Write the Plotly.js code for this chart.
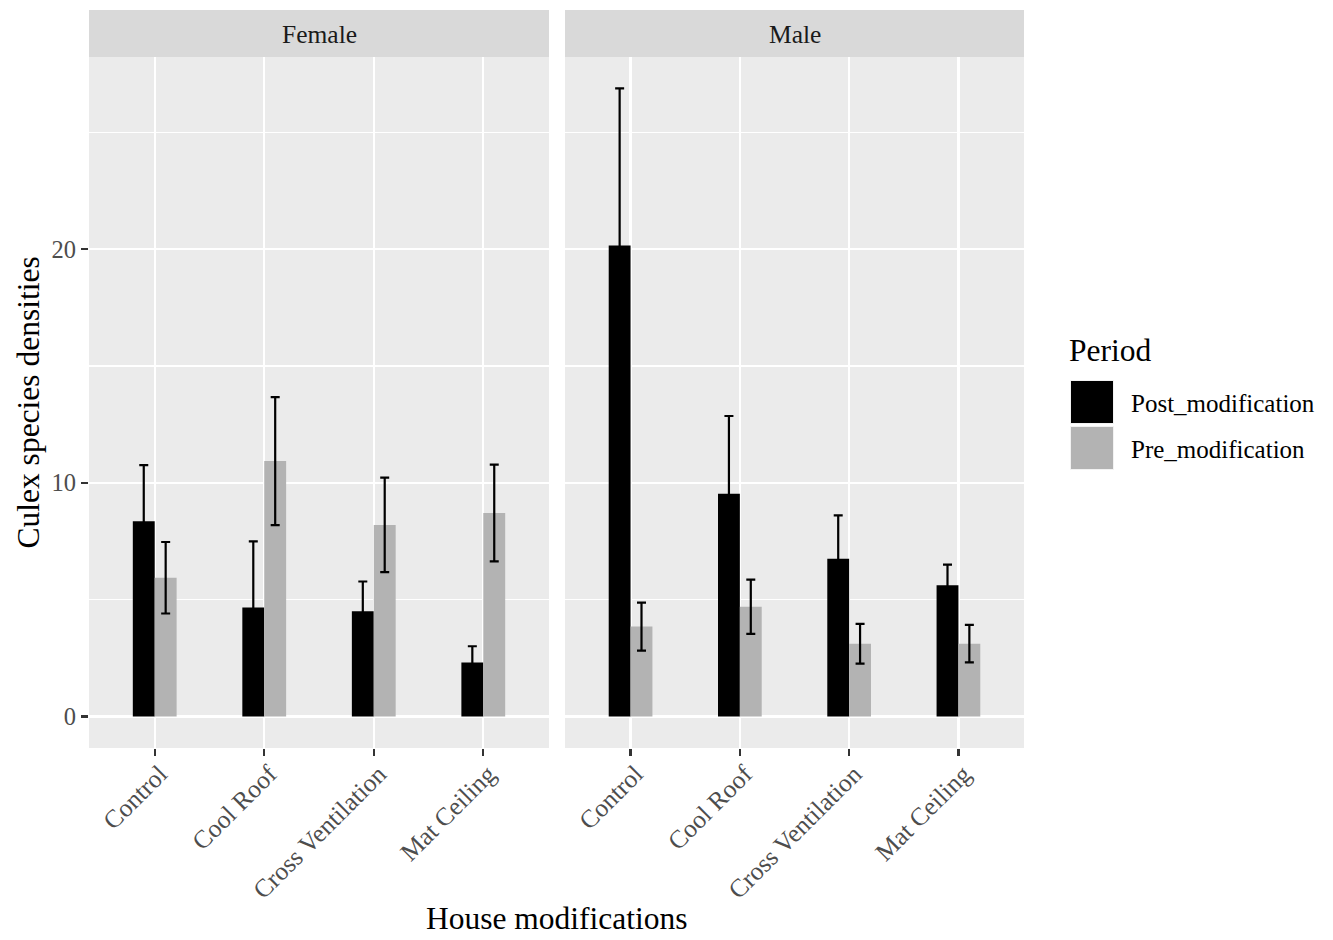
<!DOCTYPE html>
<html>
<head>
<meta charset="utf-8">
<script src="https://cdn.plot.ly/plotly-3.0.1.min.js"></script>
<style>html,body{margin:0;padding:0;background:#fff;}#chart{width:1333px;height:940px;}</style>
</head>
<body>
<div id="chart"></div>
<script>
// ---- data ----
const categories = ["Control", "Cool Roof", "Cross Ventilation", "Mat Ceiling"];
const panels = ["Female", "Male"];
const seriesNames = ["Post_modification", "Pre_modification"];
const femalePost = [8.36, 4.67, 4.51, 2.31];
const femalePostErr = [2.40, 2.83, 1.27, 0.70];
const femalePre = [5.94, 10.93, 8.20, 8.71];
const femalePreErr = [1.53, 2.74, 2.02, 2.07];
const malePost = [20.15, 9.53, 6.75, 5.62];
const malePostErr = [6.73, 3.33, 1.86, 0.88];
const malePre = [3.85, 4.70, 3.12, 3.12];
const malePreErr = [1.03, 1.16, 0.85, 0.80];
const yTicks = [0, 10, 20];
const yTitle = "Culex species densities";
const xTitle = "House modifications";
const legendTitle = "Period";

// ---- styling ----
const W = 1333, H = 940;
const L = 89, R = 1024, T = 57, B = 748;
const pw = R - L, ph = B - T;
const px2x = p => (p - L) / pw;
const px2y = p => (B - p) / ph;
const FONT = "Liberation Serif, Times New Roman, serif";
const colors = ["#000000", "#B3B3B3"];

function bar(x, y, err, name, ci, xa, ya) {
  return {
    type: "bar", x: x, y: y, name: name,
    xaxis: xa, yaxis: ya,
    marker: {color: colors[ci], line: {width: 0}},
    error_y: {type: "data", array: err, visible: true, color: "#000000", thickness: 2.2, width: 4.5},
    showlegend: false, hoverinfo: "skip"
  };
}

const data = [
  bar(categories, femalePost, femalePostErr, seriesNames[0], 0, "x", "y"),
  bar(categories, femalePre, femalePreErr, seriesNames[1], 1, "x", "y"),
  bar(categories, malePost, malePostErr, seriesNames[0], 0, "x2", "y2"),
  bar(categories, malePre, malePreErr, seriesNames[1], 1, "x2", "y2")
];

const yr = [-1.344, 28.22];
const xAxisBase = {
  type: "category", range: [-0.6, 3.6],
  showgrid: true, gridcolor: "#FFFFFF", gridwidth: 2.2,
  zeroline: false, showline: false,
  ticks: "outside", ticklen: 7, tickwidth: 2.2, tickcolor: "#333333",
  tickangle: -45, tickfont: {family: FONT, size: 25.5, color: "#4D4D4D"},
  ticklabelshift: 5, ticklabelstandoff: -7,
  fixedrange: true
};
const yAxisBase = {
  range: yr, tickvals: yTicks, ticktext: yTicks.map(String),
  showgrid: true, gridcolor: "#FFFFFF", gridwidth: 2.2,
  minor: {dtick: 5, tick0: 0, showgrid: true, gridcolor: "#FFFFFF", gridwidth: 1.1, ticks: ""},
  zeroline: false, showline: false,
  fixedrange: true
};

const femaleRight = 549, maleLeft = 565;

const layout = {
  width: W, height: H,
  margin: {l: L, r: W - R, t: T, b: H - B, pad: 0},
  paper_bgcolor: "#FFFFFF", plot_bgcolor: "#EBEBEB",
  barmode: "group", bargap: 0.6, bargroupgap: 0,
  showlegend: false,
  font: {family: FONT, color: "#000000"},
  xaxis: Object.assign({}, xAxisBase, {domain: [0, px2x(femaleRight)], anchor: "y"}),
  xaxis2: Object.assign({}, xAxisBase, {domain: [px2x(maleLeft), 1], anchor: "y2"}),
  yaxis: Object.assign({}, yAxisBase, {anchor: "x",
    ticks: "outside", ticklen: 7, tickwidth: 2.2, tickcolor: "#333333",
    tickfont: {family: FONT, size: 24.5, color: "#4D4D4D"}}),
  yaxis2: Object.assign({}, yAxisBase, {anchor: "x2", matches: "y", showticklabels: false, ticks: ""}),
  shapes: [],
  annotations: []
};

// strips
const strips = [[L, femaleRight], [maleLeft, R]];
strips.forEach((s, i) => {
  layout.shapes.push({type: "rect", xref: "paper", yref: "paper",
    x0: px2x(s[0]), x1: px2x(s[1]), y0: px2y(T), y1: px2y(10),
    fillcolor: "#D9D9D9", line: {width: 0}, layer: "below"});
  layout.annotations.push({xref: "paper", yref: "paper",
    x: px2x((s[0] + s[1]) / 2), y: px2y(34), xanchor: "center", yanchor: "middle",
    text: panels[i], showarrow: false, font: {family: FONT, size: 25.5, color: "#1A1A1A"}});
});

// axis titles
layout.annotations.push({xref: "paper", yref: "paper", x: px2x(28), y: px2y((T + B) / 2),
  xanchor: "center", yanchor: "middle", textangle: -90, text: yTitle, showarrow: false,
  font: {family: FONT, size: 31.5, color: "#000000"}});
layout.annotations.push({xref: "paper", yref: "paper", x: px2x((L + R) / 2), y: px2y(938),
  xanchor: "center", yanchor: "bottom", text: xTitle, showarrow: false,
  font: {family: FONT, size: 31.5, color: "#000000"}});

// legend
layout.annotations.push({xref: "paper", yref: "paper", x: px2x(1067), y: px2y(350),
  xanchor: "left", yanchor: "middle", text: legendTitle, showarrow: false,
  font: {family: FONT, size: 31.5, color: "#000000"}});
const keyTops = [380, 426];
seriesNames.forEach((n, i) => {
  const t = keyTops[i];
  layout.shapes.push({type: "rect", xref: "paper", yref: "paper",
    x0: px2x(1070), x1: px2x(1114), y0: px2y(t + 44), y1: px2y(t),
    fillcolor: "#F2F2F2", line: {width: 0}});
  layout.shapes.push({type: "rect", xref: "paper", yref: "paper",
    x0: px2x(1071), x1: px2x(1113), y0: px2y(t + 43), y1: px2y(t + 1),
    fillcolor: colors[i], line: {width: 0}});
  layout.annotations.push({xref: "paper", yref: "paper", x: px2x(1129), y: px2y(t + 23),
    xanchor: "left", yanchor: "middle", text: n, showarrow: false,
    font: {family: FONT, size: 25, color: "#000000"}});
});

Plotly.newPlot("chart", data, layout, {staticPlot: true, displayModeBar: false});
</script>
</body>
</html>
